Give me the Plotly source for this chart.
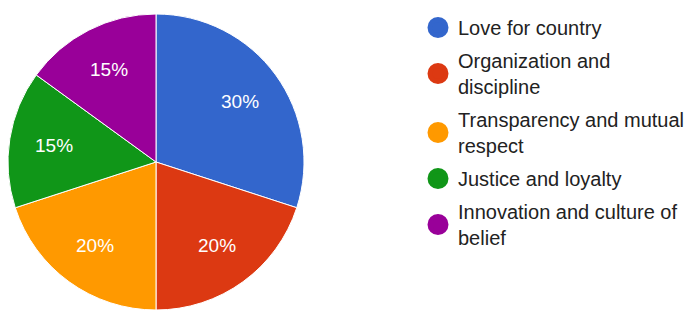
import math
import plotly.graph_objects as go

labels = ["Love for country", "Organization and discipline", "Transparency and mutual respect",
          "Justice and loyalty", "Innovation and culture of belief"]
legend_labels = ["Love for country", "Organization and<br>discipline", "Transparency and mutual<br>respect",
                 "Justice and loyalty", "Innovation and culture of<br>belief"]
values = [30, 20, 20, 15, 15]
colors = ["#3366cc", "#dc3912", "#ff9900", "#109618", "#990099"]

W, H = 694, 310
# pie geometry in figure pixels
CX, CY, R = 148, 154, 148

fig = go.Figure()
fig.add_trace(go.Pie(
    labels=labels, values=values, sort=False, direction="clockwise", rotation=0,
    marker=dict(colors=colors, line=dict(color="white", width=1)),
    textinfo="none",
    domain=dict(x=[(CX - R) / W, (CX + R) / W], y=[(H - CY - R) / H, (H - CY + R) / H]),
    showlegend=False, hoverinfo="label+percent",
))

# percentage labels placed on each slice bisector, derived from the values
total = sum(values)
acc = 0
for v in values:
    mid = (acc + v / 2) / total * 2 * math.pi
    acc += v
    r = 0.70 * R
    px = CX + r * math.sin(mid)
    py = CY - r * math.cos(mid)
    fig.add_annotation(
        x=px / W, y=(H - py) / H, xref="paper", yref="paper",
        text=f"{round(v / total * 100)}%", showarrow=False,
        font=dict(color="white", size=19, family="Liberation Sans, Arial"),
        xanchor="center", yanchor="middle",
    )

for i, (lab, col) in enumerate(zip(legend_labels, colors)):
    fig.add_trace(go.Scatter(
        x=[None], y=[None], mode="markers", name=lab, legendgroup=f"g{i}",
        marker=dict(symbol="circle", size=16, color=col, line=dict(color=col, width=5)),
        showlegend=True,
    ))
fig.update_layout(
    width=W, height=H, margin=dict(l=0, r=0, t=0, b=0),
    paper_bgcolor="white", plot_bgcolor="white",
    xaxis=dict(visible=False), yaxis=dict(visible=False),
    legend=dict(x=410 / W, y=1, xanchor="left", yanchor="top",
                font=dict(size=20, color="#222222", family="Liberation Sans, Arial"),
                bgcolor="rgba(0,0,0,0)", tracegroupgap=4),
)
fig.write_html("out.html")
